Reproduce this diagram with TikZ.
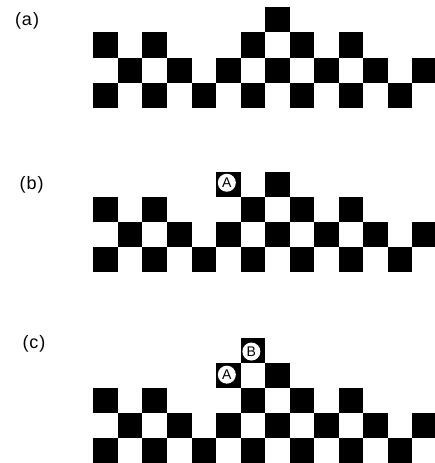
\documentclass[tikz,border=0pt]{standalone}
\usepackage{fontspec}
\setmainfont{Liberation Sans}
\begin{document}
\begin{tikzpicture}[x=1pt,y=-1pt,
  tag/.style={circle,fill=white,inner sep=0pt,minimum size=18pt,font=\fontsize{14}{14}\selectfont},
  panel/.style={inner sep=0pt,font=\fontsize{18}{18}\selectfont}]
\useasboundingbox (0,0) rectangle (435,463);
\clip (0,0) rectangle (435,463);
\def\cw{24.55}\def\ch{25.1}\def\xo{93.3}
\newcommand\blk[3]{\fill[black] (\xo+#2*\cw, #1+#3*\ch) rectangle ++(\cw,\ch);}
\newcommand\base[1]{%
  \foreach \c in {0,2,6,8,10}{\blk{#1}{\c}{1}}
  \foreach \c in {1,3,5,7,9,11,13}{\blk{#1}{\c}{2}}
  \foreach \c in {0,2,4,6,8,10,12}{\blk{#1}{\c}{3}}
  \blk{#1}{7}{0}}
% (a)
\node[panel] (la) at (27,21) {(\kern1pt a\kern1pt)};
\base{7.3}
% (b)
\node[panel] (lb) at (31.7,185) {(\kern1pt b\kern1pt)};
\base{171.7}
\blk{171.7}{5}{0}
\node[tag] (Ab) at (\xo+5.5*\cw-1.5, 171.7+0.5*\ch-1.5) {A};
% (c)
\node[panel] (lc) at (34,344) {(\kern1pt c\kern1pt)};
\base{362.6}
\blk{362.6}{5}{0}
\blk{362.6}{6}{-1}
\node[tag] (Ac) at (\xo+5.5*\cw-1.5, 362.6+0.5*\ch-0.5) {A};
\node[tag] (Bc) at (\xo+6.5*\cw-1.5, 362.6-0.5*\ch+1.5) {B};
\end{tikzpicture}
\end{document}
